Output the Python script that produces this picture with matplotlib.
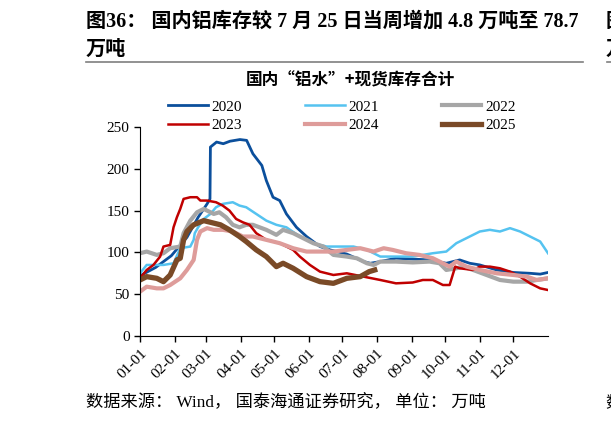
import matplotlib
matplotlib.use('Agg')
import matplotlib.pyplot as plt

plt.rcParams['font.family'] = ['Liberation Serif', 'Noto Sans CJK SC']

# dag van het jaar en voorraad (万吨) per jaar
d2020 = [0, 14, 28, 42, 52, 60, 62.6, 63, 68.5, 74.5, 80.5, 89.4, 95.4, 101, 109, 113, 119, 125, 131, 140, 149,
         155, 161, 170, 185, 200, 206, 215, 229, 244, 259, 274, 286, 295, 304, 319, 334, 349, 358, 365]
v2020 = [72, 82, 96, 118, 142, 158, 164, 226, 232, 230, 233, 235, 234, 218, 204, 186, 166, 162, 146, 130, 119,
         113, 107, 103, 98, 89, 87, 89, 93, 92, 91, 87, 91, 87, 85, 79, 76, 75, 74, 76]

d2021 = [0, 6, 21, 30, 36, 45, 48, 49, 52, 57, 63, 68, 74, 83, 89, 95, 104, 113, 122, 131, 143, 155, 167, 179,
         191, 203, 215, 244, 262, 274, 283, 292, 304, 313, 322, 331, 340, 349, 358, 365]
v2021 = [75, 85, 85, 87, 105, 107, 115, 123, 130, 140, 146, 154, 158, 160, 156, 154, 146, 138, 133, 130, 119, 111,
         107, 107, 107, 103, 95, 95, 99, 101, 111, 117, 125, 127, 125, 129, 125, 119, 113, 99]

d2022 = [0, 6, 15, 21, 27, 36, 39, 45, 51, 57, 66, 71, 77, 83, 89, 95, 101, 113, 122, 128, 137, 149, 155, 164,
         173, 185, 194, 203, 209, 215, 229, 244, 259, 268, 274, 283, 289, 298, 310, 322, 334, 346, 355, 365]
v2022 = [99, 101, 97, 99, 105, 107, 123, 138, 148, 152, 146, 148, 142, 133, 130, 133, 133, 127, 121, 127, 123,
         115, 111, 107, 97, 95, 93, 87, 85, 89, 89, 88, 89, 87, 79, 81, 83, 79, 73, 67, 65, 65, 67, 69]

d2023 = [0, 6, 12, 18, 21, 27, 30, 33, 36, 39, 45, 51, 54, 60, 68, 74, 80, 86, 92, 98, 104, 113, 125, 137, 143,
         152, 161, 173, 185, 200, 215, 229, 244, 253, 262, 271, 277, 282, 286, 298, 304, 313, 322, 331, 340, 349,
         358, 365]
v2023 = [69, 79, 85, 95, 107, 109, 130, 142, 152, 164, 166, 166, 162, 162, 160, 156, 150, 140, 136, 133, 123, 115,
         111, 103, 95, 85, 77, 73, 75, 71, 67, 63, 64, 67, 67, 61, 61, 83, 81, 79, 83, 83, 81, 77, 71, 63, 57, 55]

d2024 = [0, 6, 15, 21, 27, 36, 42, 48, 51, 54, 60, 66, 74, 83, 92, 101, 113, 125, 137, 149, 161, 173, 185, 197,
         209, 218, 226, 238, 250, 262, 271, 277, 283, 292, 304, 319, 334, 346, 355, 365]
v2024 = [53, 59, 57, 57, 61, 69, 79, 91, 115, 125, 129, 127, 127, 125, 119, 119, 115, 111, 105, 101, 101, 101, 103,
         105, 101, 105, 103, 99, 97, 93, 87, 83, 89, 83, 79, 75, 73, 71, 67, 69]

d2025 = [0, 6, 15, 21, 27, 33, 36, 39, 42, 48, 57, 63, 72, 80, 89, 95, 104, 113, 122, 128, 137, 149, 161, 173,
         185, 197, 205, 210]
v2025 = [67, 71, 69, 65, 73, 91, 93, 115, 125, 133, 138, 136, 133, 127, 119, 113, 103, 95, 83, 87, 81, 71, 65, 63,
         69, 71, 77, 79]

maand_ticks = [0, 31, 59, 90, 120, 151, 181, 212, 243, 273, 304, 334]
maand_labels = ['01-01', '02-01', '03-01', '04-01', '05-01', '06-01',
                '07-01', '08-01', '09-01', '10-01', '11-01', '12-01']

fig = plt.figure(figsize=(6.11, 4.21), dpi=100)
ax = fig.add_axes([140 / 611, 85 / 421, 408 / 611, 209 / 421])

l20, = ax.plot(d2020, v2020, color='#0B4F9C', lw=2.0, label='2020')
l21, = ax.plot(d2021, v2021, color='#55C3F0', lw=1.8, label='2021')
l22, = ax.plot(d2022, v2022, color='#A6A6A6', lw=3.0, label='2022')
l23, = ax.plot(d2023, v2023, color='#C00000', lw=1.8, label='2023')
l24, = ax.plot(d2024, v2024, color='#DE9C9A', lw=3.0, label='2024')
l25, = ax.plot(d2025, v2025, color='#7A4A27', lw=3.8, label='2025')

ax.set_xlim(0, 365)
ax.set_ylim(0, 250)
ax.set_yticks([0, 50, 100, 150, 200, 250])
ax.set_xticks(maand_ticks)
ax.set_xticklabels(maand_labels, rotation=45, ha='right', rotation_mode='anchor')
ax.tick_params(labelsize=11, length=4, width=1, color='black')
ax.spines['top'].set_visible(False)
ax.spines['right'].set_visible(False)

# legenda rij voor rij: 2020 2021 2022 / 2023 2024 2025
volgorde = [l20, l23, l21, l24, l22, l25]
ax.legend(volgorde, [l.get_label() for l in volgorde], loc='lower center', bbox_to_anchor=(0.495, 0.94),
          ncol=3, frameon=False, fontsize=11, handlelength=2.6, columnspacing=4.1, handletextpad=0.25,
          labelspacing=0.3, borderpad=0)

# titels en bron
fig.text(86 / 611, 1 - 22 / 421, '图36： 国内铝库存较 7 月 25 日当周增加 4.8 万吨至 78.7', fontsize=14.5,
         fontweight='bold', va='center', ha='left')
fig.text(86 / 611, 1 - 50 / 421, '万吨', fontsize=14.5, fontweight='bold', va='center', ha='left')
fig.add_artist(plt.Line2D([86 / 611, 583 / 611], [1 - 62 / 421] * 2, color='#7F7F7F', lw=1.2))
fig.text(350 / 611, 1 - 80 / 421, '国内“铝水”+现货库存合计', fontsize=12, fontweight='bold',
         family=['Noto Sans CJK SC'], va='center', ha='center')
fig.text(86 / 611, 1 - 403 / 421, '数据来源： Wind， 国泰海通证券研究， 单位： 万吨', fontsize=12.4,
         va='center', ha='left')

# afgesneden tekst van de volgende kolom
fig.text(606 / 611, 1 - 22 / 421, '图', fontsize=14.5, fontweight='bold', va='center', ha='left')
fig.text(606 / 611, 1 - 50 / 421, '万', fontsize=14.5, fontweight='bold', va='center', ha='left')
fig.add_artist(plt.Line2D([607 / 611, 1.0], [1 - 62 / 421] * 2, color='#7F7F7F', lw=1.2))
fig.text(605 / 611, 1 - 403 / 421, '数', fontsize=12.4, va='center', ha='left')

fig.savefig('out.png', dpi=100)
